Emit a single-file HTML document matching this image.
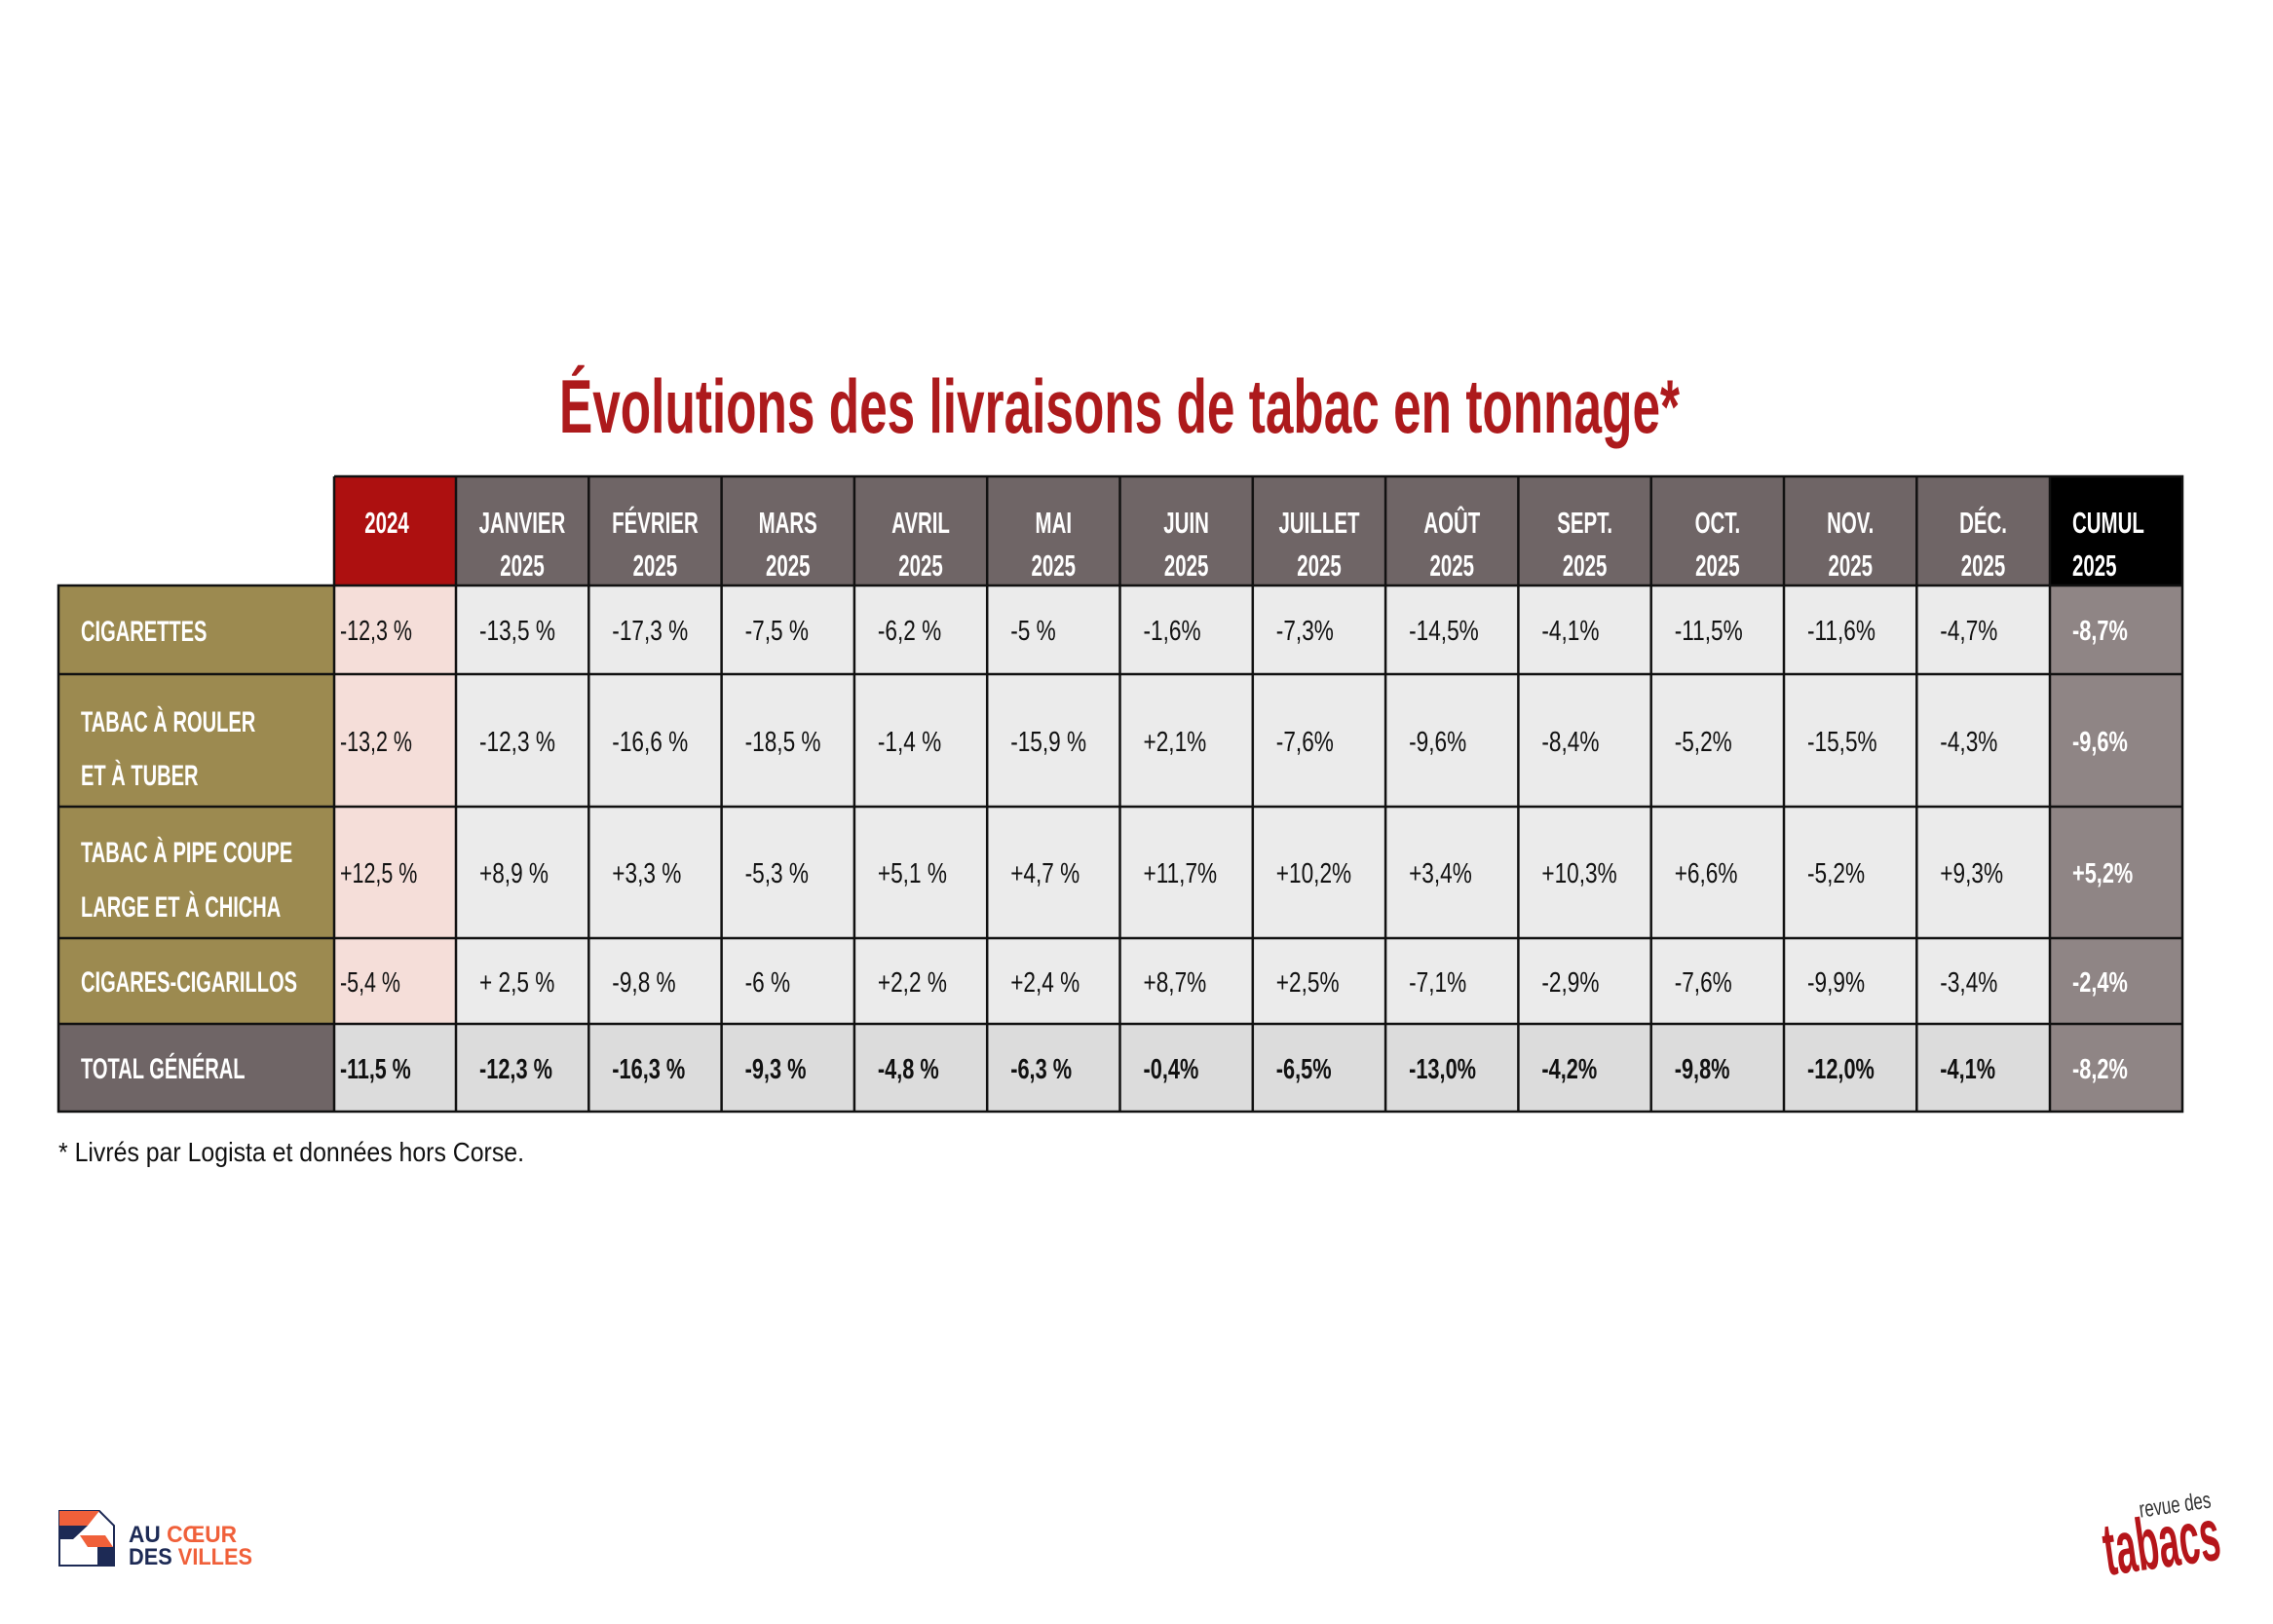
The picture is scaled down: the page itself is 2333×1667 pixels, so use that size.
<!DOCTYPE html>
<html><head><meta charset="utf-8"><style>
html,body{margin:0;padding:0;background:#fff;}
svg{display:block;}
text{font-family:"Liberation Sans Narrow","Liberation Sans",sans-serif;}
.v{font-size:29px;fill:#111;}
.b{font-size:29px;fill:#111;font-weight:bold;}
.w{font-size:29px;fill:#fff;font-weight:bold;}
.h{font-size:31px;fill:#fff;font-weight:bold;}
.l{font-size:30px;fill:#fff;font-weight:bold;}
</style></head><body>
<svg width="2333" height="1667" viewBox="0 0 2333 1667" xmlns="http://www.w3.org/2000/svg">
<rect width="2333" height="1667" fill="#fff"/>
<text x="574" y="444" font-size="78" font-weight="bold" fill="#ad1a1c" textLength="1150" lengthAdjust="spacingAndGlyphs">Évolutions des livraisons de tabac en tonnage*</text>

<rect x="343" y="489" width="125" height="112" fill="#ad1010"/>
<rect x="468" y="489" width="1636" height="112" fill="#6f6566"/>
<rect x="2104" y="489" width="136" height="112" fill="#000"/>
<rect x="60" y="601" width="283" height="450" fill="#9c8a50"/>
<rect x="60" y="1051" width="283" height="90" fill="#6f6566"/>
<rect x="343" y="601" width="125" height="450" fill="#f5ded9"/>
<rect x="468" y="601" width="1636" height="450" fill="#ebebeb"/>
<rect x="343" y="1051" width="1761" height="90" fill="#dcdcdc"/>
<rect x="2104" y="601" width="136" height="540" fill="#8f8585"/>

<g stroke="#111" stroke-width="2.5" fill="none">
<path d="M343 489H2240V1141H60V601H2240"/>
<path d="M60 692H2240M60 828H2240M60 963H2240M60 1051H2240"/>
<path d="M343 489V1141M468 489V1141M604.3 489V1141M740.6 489V1141M876.9 489V1141M1013.2 489V1141M1149.5 489V1141M1285.8 489V1141M1422.1 489V1141M1558.4 489V1141M1694.7 489V1141M1831 489V1141M1967.3 489V1141M2104 489V1141"/>
</g>

<g text-anchor="middle">
<text class="h" transform="translate(397 547) scale(.66 1)">2024</text>
<text class="h" transform="translate(536 547) scale(.66 1)">JANVIER</text><text class="h" transform="translate(536 591) scale(.66 1)">2025</text>
<text class="h" transform="translate(672.4 547) scale(.66 1)">FÉVRIER</text><text class="h" transform="translate(672.4 591) scale(.66 1)">2025</text>
<text class="h" transform="translate(808.7 547) scale(.66 1)">MARS</text><text class="h" transform="translate(808.7 591) scale(.66 1)">2025</text>
<text class="h" transform="translate(945 547) scale(.66 1)">AVRIL</text><text class="h" transform="translate(945 591) scale(.66 1)">2025</text>
<text class="h" transform="translate(1081.3 547) scale(.66 1)">MAI</text><text class="h" transform="translate(1081.3 591) scale(.66 1)">2025</text>
<text class="h" transform="translate(1217.6 547) scale(.66 1)">JUIN</text><text class="h" transform="translate(1217.6 591) scale(.66 1)">2025</text>
<text class="h" transform="translate(1354 547) scale(.66 1)">JUILLET</text><text class="h" transform="translate(1354 591) scale(.66 1)">2025</text>
<text class="h" transform="translate(1490.3 547) scale(.66 1)">AOÛT</text><text class="h" transform="translate(1490.3 591) scale(.66 1)">2025</text>
<text class="h" transform="translate(1626.6 547) scale(.66 1)">SEPT.</text><text class="h" transform="translate(1626.6 591) scale(.66 1)">2025</text>
<text class="h" transform="translate(1762.9 547) scale(.66 1)">OCT.</text><text class="h" transform="translate(1762.9 591) scale(.66 1)">2025</text>
<text class="h" transform="translate(1899.2 547) scale(.66 1)">NOV.</text><text class="h" transform="translate(1899.2 591) scale(.66 1)">2025</text>
<text class="h" transform="translate(2035.5 547) scale(.66 1)">DÉC.</text><text class="h" transform="translate(2035.5 591) scale(.66 1)">2025</text>
</g>
<text class="h" transform="translate(2127 547) scale(.66 1)">CUMUL</text><text class="h" transform="translate(2127 591) scale(.66 1)">2025</text>

<text class="l" transform="translate(83 658) scale(.67 1)">CIGARETTES</text>
<text class="l" transform="translate(83 751) scale(.67 1)">TABAC À ROULER</text>
<text class="l" transform="translate(83 806) scale(.67 1)">ET À TUBER</text>
<text class="l" transform="translate(83 885) scale(.67 1)">TABAC À PIPE COUPE</text>
<text class="l" transform="translate(83 941) scale(.67 1)">LARGE ET À CHICHA</text>
<text class="l" transform="translate(83 1018) scale(.67 1)">CIGARES-CIGARILLOS</text>
<text class="l" transform="translate(83 1107) scale(.67 1)">TOTAL GÉNÉRAL</text>

<text class="v" transform="translate(349 657) scale(.74 1)">-12,3 %</text>
<text class="v" transform="translate(349 771) scale(.74 1)">-13,2 %</text>
<text class="v" transform="translate(349 906) scale(.74 1)">+12,5 %</text>
<text class="v" transform="translate(349 1018) scale(.74 1)">-5,4 %</text>
<text class="b" transform="translate(349 1107) scale(.74 1)">-11,5 %</text>

<text class="v" transform="translate(492 657) scale(.78 1)">-13,5 %</text>
<text class="v" transform="translate(492 771) scale(.78 1)">-12,3 %</text>
<text class="v" transform="translate(492 906) scale(.78 1)">+8,9 %</text>
<text class="v" transform="translate(492 1018) scale(.78 1)">+ 2,5 %</text>
<text class="b" transform="translate(492 1107) scale(.75 1)">-12,3 %</text>
<text class="v" transform="translate(628.3 657) scale(.78 1)">-17,3 %</text>
<text class="v" transform="translate(628.3 771) scale(.78 1)">-16,6 %</text>
<text class="v" transform="translate(628.3 906) scale(.78 1)">+3,3 %</text>
<text class="v" transform="translate(628.3 1018) scale(.78 1)">-9,8 %</text>
<text class="b" transform="translate(628.3 1107) scale(.75 1)">-16,3 %</text>
<text class="v" transform="translate(764.6 657) scale(.78 1)">-7,5 %</text>
<text class="v" transform="translate(764.6 771) scale(.78 1)">-18,5 %</text>
<text class="v" transform="translate(764.6 906) scale(.78 1)">-5,3 %</text>
<text class="v" transform="translate(764.6 1018) scale(.78 1)">-6 %</text>
<text class="b" transform="translate(764.6 1107) scale(.75 1)">-9,3 %</text>
<text class="v" transform="translate(900.9 657) scale(.78 1)">-6,2 %</text>
<text class="v" transform="translate(900.9 771) scale(.78 1)">-1,4 %</text>
<text class="v" transform="translate(900.9 906) scale(.78 1)">+5,1 %</text>
<text class="v" transform="translate(900.9 1018) scale(.78 1)">+2,2 %</text>
<text class="b" transform="translate(900.9 1107) scale(.75 1)">-4,8 %</text>
<text class="v" transform="translate(1037.2 657) scale(.78 1)">-5 %</text>
<text class="v" transform="translate(1037.2 771) scale(.78 1)">-15,9 %</text>
<text class="v" transform="translate(1037.2 906) scale(.78 1)">+4,7 %</text>
<text class="v" transform="translate(1037.2 1018) scale(.78 1)">+2,4 %</text>
<text class="b" transform="translate(1037.2 1107) scale(.75 1)">-6,3 %</text>
<text class="v" transform="translate(1173.5 657) scale(.78 1)">-1,6%</text>
<text class="v" transform="translate(1173.5 771) scale(.78 1)">+2,1%</text>
<text class="v" transform="translate(1173.5 906) scale(.78 1)">+11,7%</text>
<text class="v" transform="translate(1173.5 1018) scale(.78 1)">+8,7%</text>
<text class="b" transform="translate(1173.5 1107) scale(.75 1)">-0,4%</text>
<text class="v" transform="translate(1309.8 657) scale(.78 1)">-7,3%</text>
<text class="v" transform="translate(1309.8 771) scale(.78 1)">-7,6%</text>
<text class="v" transform="translate(1309.8 906) scale(.78 1)">+10,2%</text>
<text class="v" transform="translate(1309.8 1018) scale(.78 1)">+2,5%</text>
<text class="b" transform="translate(1309.8 1107) scale(.75 1)">-6,5%</text>
<text class="v" transform="translate(1446.1 657) scale(.78 1)">-14,5%</text>
<text class="v" transform="translate(1446.1 771) scale(.78 1)">-9,6%</text>
<text class="v" transform="translate(1446.1 906) scale(.78 1)">+3,4%</text>
<text class="v" transform="translate(1446.1 1018) scale(.78 1)">-7,1%</text>
<text class="b" transform="translate(1446.1 1107) scale(.75 1)">-13,0%</text>
<text class="v" transform="translate(1582.4 657) scale(.78 1)">-4,1%</text>
<text class="v" transform="translate(1582.4 771) scale(.78 1)">-8,4%</text>
<text class="v" transform="translate(1582.4 906) scale(.78 1)">+10,3%</text>
<text class="v" transform="translate(1582.4 1018) scale(.78 1)">-2,9%</text>
<text class="b" transform="translate(1582.4 1107) scale(.75 1)">-4,2%</text>
<text class="v" transform="translate(1718.7 657) scale(.78 1)">-11,5%</text>
<text class="v" transform="translate(1718.7 771) scale(.78 1)">-5,2%</text>
<text class="v" transform="translate(1718.7 906) scale(.78 1)">+6,6%</text>
<text class="v" transform="translate(1718.7 1018) scale(.78 1)">-7,6%</text>
<text class="b" transform="translate(1718.7 1107) scale(.75 1)">-9,8%</text>
<text class="v" transform="translate(1855 657) scale(.78 1)">-11,6%</text>
<text class="v" transform="translate(1855 771) scale(.78 1)">-15,5%</text>
<text class="v" transform="translate(1855 906) scale(.78 1)">-5,2%</text>
<text class="v" transform="translate(1855 1018) scale(.78 1)">-9,9%</text>
<text class="b" transform="translate(1855 1107) scale(.75 1)">-12,0%</text>
<text class="v" transform="translate(1991.3 657) scale(.78 1)">-4,7%</text>
<text class="v" transform="translate(1991.3 771) scale(.78 1)">-4,3%</text>
<text class="v" transform="translate(1991.3 906) scale(.78 1)">+9,3%</text>
<text class="v" transform="translate(1991.3 1018) scale(.78 1)">-3,4%</text>
<text class="b" transform="translate(1991.3 1107) scale(.75 1)">-4,1%</text>
<text class="w" transform="translate(2127 657) scale(.75 1)">-8,7%</text>
<text class="w" transform="translate(2127 771) scale(.75 1)">-9,6%</text>
<text class="w" transform="translate(2127 906) scale(.75 1)">+5,2%</text>
<text class="w" transform="translate(2127 1018) scale(.75 1)">-2,4%</text>
<text class="w" transform="translate(2127 1107) scale(.75 1)">-8,2%</text>

<text x="60" y="1192" font-size="28" fill="#111" textLength="478" lengthAdjust="spacingAndGlyphs">* Livrés par Logista et données hors Corse.</text>

<g>
<polygon points="61,1551 102,1551 117,1566 117,1607 61,1607" fill="#fff" stroke="#1d2a55" stroke-width="2"/>
<polygon points="61,1551 102,1551 90,1566 61,1566" fill="#f0603a"/>
<polygon points="61,1566 90,1566 75,1580 61,1580" fill="#1d2a55"/>
<polygon points="82,1576 108,1576 116,1588 90,1588" fill="#f0603a"/>
<rect x="100" y="1588" width="17" height="19" fill="#1d2a55"/>
<text x="132" y="1583" font-size="24" font-weight="bold" fill="#1d2a55" textLength="111" lengthAdjust="spacingAndGlyphs">AU <tspan fill="#f0603a">CŒUR</tspan></text>
<text x="132" y="1606" font-size="24" font-weight="bold" fill="#1d2a55" textLength="127" lengthAdjust="spacingAndGlyphs">DES <tspan fill="#f0603a">VILLES</tspan></text>
</g>
<g transform="rotate(-8 2210 1580)">
<text x="2158" y="1610" font-size="76" font-weight="bold" fill="#b5151a" textLength="120" lengthAdjust="spacingAndGlyphs">tabacs</text>
<text x="2200" y="1556" font-size="24" fill="#333" textLength="74" lengthAdjust="spacingAndGlyphs">revue des</text>
</g>
</svg>
</body></html>
